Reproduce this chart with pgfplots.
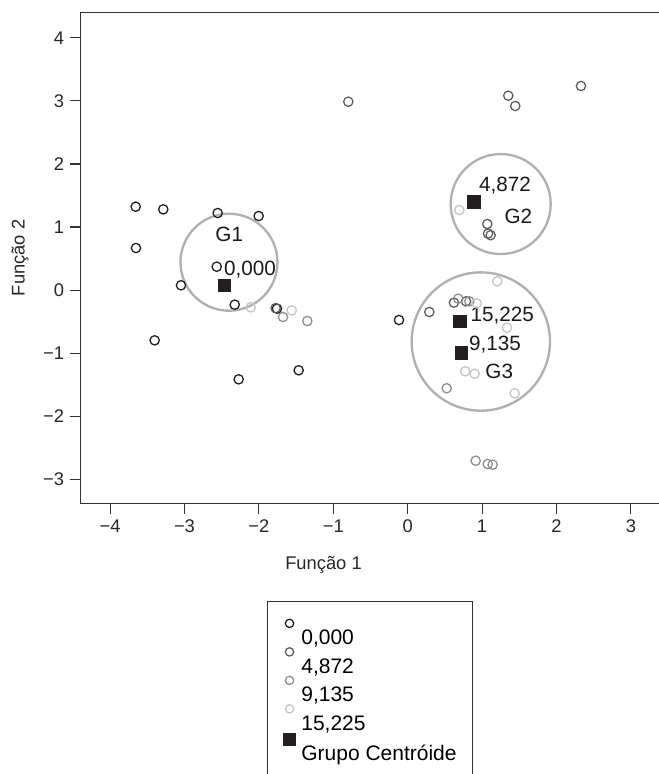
\documentclass[border=0pt]{standalone}
\usepackage{fontspec}
\setmainfont{Liberation Sans}
\usepackage{pgfplots}
\pgfplotsset{compat=1.18}
\definecolor{cblack}{HTML}{1A1A1A}
\definecolor{cdark}{HTML}{5A5A5A}
\definecolor{cmid}{HTML}{8C8C8C}
\definecolor{clight}{HTML}{C4C4C4}
\definecolor{ring}{HTML}{B0B0B0}
\definecolor{axisc}{HTML}{333333}
\definecolor{cent}{HTML}{231F20}
\begin{document}
\begin{tikzpicture}
\useasboundingbox (-48.42pt,-162.42pt) rectangle (346.98pt,301.98pt);
\clip (-48.42pt,-162.42pt) rectangle (346.98pt,301.98pt);
\begin{axis}[
  at={(0pt,0pt)}, anchor=south west,
  scale only axis, width=348.78pt, height=294.6pt,
  xmin=-4.395, xmax=3.418, ymin=-3.379, ymax=4.403,
  xtick={-4,-3,-2,-1,0,1,2,3},
  xticklabels={−4,−3,−2,−1,0,1,2,3},
  ytick={-3,-2,-1,0,1,2,3,4},
  yticklabels={−3,−2,−1,0,1,2,3,4},
  tick pos=left, tick align=outside, major tick length=6.4pt,
  every tick/.style={axisc, line width=0.7pt},
  axis line style={axisc, line width=0.7pt},
  tick label style={font=\fontsize{11}{13}\selectfont, text=black!85},
  label style={font=\fontsize{11}{13}\selectfont, text=black!85},
  xlabel={Função 1}, ylabel={Função 2},
  xlabel style={at={(axis description cs:0.4177,-0.1256)}, anchor=center},
  ylabel style={at={(axis description cs:-0.1044,0.5)}, anchor=center},
  legend cell align=left,
  legend image code/.code={\draw[#1, yshift=9.15pt] plot coordinates {(0pt,0pt)};},
  legend style={at={(axis description cs:0,0)}, xshift=112pt, yshift=-58.6pt,
    anchor=north west, draw=axisc, line width=0.6pt,
    inner xsep=9.3pt, inner ysep=10.65pt, row sep=0.3pt, column sep=3.4pt,
    font=\fontsize{12.6}{14}\selectfont,
    nodes={inner sep=0pt, text height=8.8pt, text depth=1.5pt}},
]
\draw[ring, line width=1.4pt] (axis cs:-2.402,0.442) circle[radius=29.1pt];
\draw[ring, line width=1.4pt] (axis cs:1.250,1.364) circle[radius=30pt];
\draw[ring, line width=1.4pt] (axis cs:0.983,-0.815) circle[radius=41.5pt];

\addplot[only marks, mark=o, mark size=2.8pt, line width=0.75pt, cblack,
  legend image post style={mark size=2.5pt}] coordinates {
(-3.656,1.322) (-3.285,1.280) (-2.554,1.222) (-2.003,1.174) (-3.652,0.667)
(-2.567,0.371) (-3.047,0.076) (-2.325,-0.231) (-1.757,-0.294) (-3.401,-0.796)
(-2.272,-1.414) (-1.465,-1.271) (-0.117,-0.474)};
\addlegendentry{0,000}
\addplot[only marks, mark=o, mark size=2.8pt, line width=0.75pt, cdark,
  legend image post style={mark size=2.5pt}] coordinates {
(-0.798,2.986) (1.352,3.081) (1.446,2.918) (2.329,3.235) (1.070,1.048)
(1.080,0.895) (1.115,0.870) (0.291,-0.347) (0.622,-0.199) (0.784,-0.178)
(-1.775,-0.285)};
\addlegendentry{4,872}
\addplot[only marks, mark=o, mark size=2.8pt, line width=0.75pt, cmid,
  legend image post style={mark size=2.5pt}] coordinates {
(-1.676,-0.426) (-1.349,-0.490) (0.680,-0.136) (0.828,-0.178) (0.524,-1.556)
(0.914,-2.704) (1.075,-2.756) (1.142,-2.767)};
\addlegendentry{9,135}
\addplot[only marks, mark=o, mark size=2.8pt, line width=0.75pt, clight,
  legend image post style={mark size=2.5pt}] coordinates {
(-2.110,-0.273) (-1.559,-0.321) (0.694,1.269) (1.204,0.139) (0.927,-0.210)
(1.335,-0.595) (0.774,-1.287) (0.900,-1.325) (1.438,-1.636)};
\addlegendentry{15,225}
\addplot[only marks, mark=square*, mark size=3.7pt, cent] coordinates {
(-2.460,0.076) (0.891,1.401) (0.720,-0.992) (0.703,-0.495)};
\addlegendentry{Grupo Centróide}

\begin{scope}[every node/.style={font=\fontsize{12.4}{14}\selectfont, text=black!90, inner sep=0pt}]
\node at (axis cs:-2.398,0.889) {G1};
\node at (axis cs:-2.120,0.330) {0,000};
\node at (axis cs:1.308,1.655) {4,872};
\node at (axis cs:1.487,1.163) {G2};
\node at (axis cs:1.271,-0.410) {15,225};
\node at (axis cs:1.173,-0.870) {9,135};
\node at (axis cs:1.231,-1.293) {G3};
\end{scope}
\end{axis}
\end{tikzpicture}
\end{document}
